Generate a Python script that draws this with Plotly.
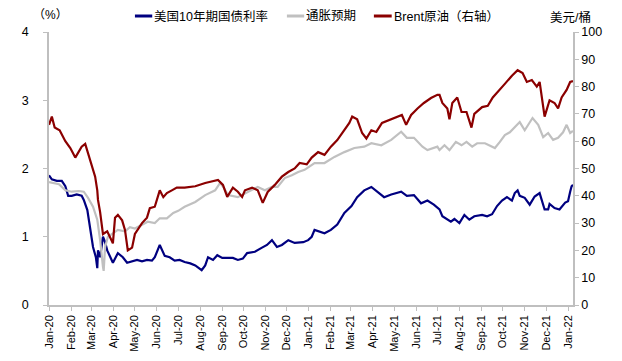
import plotly.graph_objects as go

# 美国10年期国债利率 (%)
yield_dates = ["2020-01-01","2020-01-05","2020-01-12","2020-01-19","2020-01-24","2020-01-28","2020-02-02","2020-02-09","2020-02-16","2020-02-19","2020-02-24","2020-02-28","2020-03-03","2020-03-07","2020-03-09","2020-03-10","2020-03-13","2020-03-17","2020-03-20","2020-03-23","2020-03-27","2020-03-31","2020-04-07","2020-04-14","2020-04-20","2020-04-27","2020-05-04","2020-05-11","2020-05-18","2020-05-25","2020-05-29","2020-06-05","2020-06-12","2020-06-19","2020-06-26","2020-07-03","2020-07-10","2020-07-18","2020-07-25","2020-08-03","2020-08-08","2020-08-12","2020-08-19","2020-08-25","2020-09-01","2020-09-09","2020-09-16","2020-09-23","2020-09-30","2020-10-06","2020-10-17","2020-10-27","2020-11-03","2020-11-10","2020-11-17","2020-11-24","2020-12-03","2020-12-12","2020-12-24","2020-12-31","2021-01-05","2021-01-09","2021-01-16","2021-01-23","2021-02-01","2021-02-10","2021-02-20","2021-03-02","2021-03-10","2021-03-20","2021-03-30","2021-04-07","2021-04-17","2021-04-27","2021-05-11","2021-05-19","2021-05-29","2021-06-08","2021-06-17","2021-06-26","2021-07-04","2021-07-08","2021-07-15","2021-07-20","2021-07-25","2021-08-01","2021-08-08","2021-08-15","2021-08-22","2021-09-02","2021-09-09","2021-09-16","2021-09-23","2021-09-30","2021-10-07","2021-10-14","2021-10-18","2021-10-22","2021-10-25","2021-11-01","2021-11-08","2021-11-15","2021-11-22","2021-11-29","2021-12-04","2021-12-06","2021-12-13","2021-12-20","2021-12-28","2022-01-01","2022-01-04","2022-01-06","2022-01-08"]
yield_vals = [1.90,1.84,1.82,1.82,1.74,1.60,1.60,1.62,1.60,1.54,1.39,1.14,0.85,0.70,0.54,0.80,0.70,1.00,0.92,0.80,0.70,0.62,0.76,0.70,0.62,0.64,0.66,0.64,0.66,0.65,0.70,0.88,0.72,0.70,0.65,0.66,0.63,0.61,0.58,0.51,0.58,0.70,0.66,0.73,0.69,0.69,0.69,0.66,0.68,0.76,0.78,0.84,0.88,0.95,0.85,0.88,0.95,0.91,0.92,0.95,1.00,1.10,1.08,1.05,1.10,1.18,1.35,1.45,1.58,1.68,1.73,1.66,1.58,1.62,1.66,1.60,1.61,1.49,1.53,1.47,1.40,1.30,1.26,1.22,1.26,1.20,1.32,1.25,1.30,1.32,1.30,1.33,1.45,1.53,1.58,1.53,1.64,1.68,1.60,1.57,1.47,1.59,1.64,1.40,1.40,1.48,1.42,1.40,1.50,1.52,1.66,1.74,1.76]

# 通胀预期 (%)
infl_dates = ["2020-01-01","2020-01-08","2020-01-15","2020-01-24","2020-02-02","2020-02-12","2020-02-19","2020-02-25","2020-03-03","2020-03-09","2020-03-13","2020-03-17","2020-03-18","2020-03-20","2020-03-24","2020-03-31","2020-04-07","2020-04-17","2020-04-24","2020-05-01","2020-05-11","2020-05-19","2020-05-29","2020-06-05","2020-06-15","2020-06-24","2020-07-01","2020-07-10","2020-07-25","2020-08-08","2020-08-22","2020-08-29","2020-09-03","2020-09-09","2020-09-23","2020-10-07","2020-10-21","2020-10-31","2020-11-10","2020-11-18","2020-11-28","2020-12-08","2020-12-17","2020-12-26","2021-01-09","2021-01-23","2021-02-06","2021-02-20","2021-03-06","2021-03-20","2021-03-30","2021-04-13","2021-04-27","2021-05-11","2021-05-19","2021-05-29","2021-06-10","2021-06-17","2021-07-01","2021-07-04","2021-07-11","2021-07-18","2021-07-27","2021-08-04","2021-08-11","2021-08-19","2021-08-26","2021-09-06","2021-09-13","2021-09-20","2021-09-27","2021-10-04","2021-10-11","2021-10-18","2021-10-25","2021-11-01","2021-11-08","2021-11-12","2021-11-20","2021-11-27","2021-12-04","2021-12-11","2021-12-18","2021-12-25","2021-12-30","2022-01-04","2022-01-08"]
infl_vals = [1.80,1.78,1.77,1.68,1.66,1.67,1.66,1.57,1.44,1.25,0.95,0.56,0.50,0.85,1.00,1.05,1.10,1.08,1.14,1.12,1.17,1.22,1.20,1.27,1.27,1.35,1.38,1.44,1.51,1.61,1.68,1.79,1.72,1.61,1.58,1.66,1.73,1.68,1.73,1.73,1.86,1.90,1.95,1.98,2.08,2.08,2.17,2.24,2.30,2.32,2.37,2.34,2.42,2.54,2.45,2.45,2.32,2.27,2.32,2.27,2.34,2.27,2.39,2.34,2.39,2.32,2.37,2.37,2.34,2.30,2.39,2.49,2.53,2.61,2.68,2.56,2.67,2.74,2.64,2.46,2.52,2.42,2.45,2.53,2.64,2.52,2.55]

# Brent原油 (美元/桶, 右轴)
brent_dates = ["2020-01-01","2020-01-05","2020-01-09","2020-01-16","2020-01-24","2020-01-31","2020-02-07","2020-02-11","2020-02-16","2020-02-21","2020-02-25","2020-03-02","2020-03-06","2020-03-09","2020-03-10","2020-03-13","2020-03-17","2020-03-23","2020-03-27","2020-03-31","2020-04-03","2020-04-07","2020-04-13","2020-04-17","2020-04-21","2020-04-27","2020-05-01","2020-05-05","2020-05-11","2020-05-18","2020-05-22","2020-05-29","2020-06-05","2020-06-10","2020-06-15","2020-06-22","2020-06-29","2020-07-10","2020-07-25","2020-08-08","2020-08-26","2020-09-02","2020-09-08","2020-09-16","2020-09-23","2020-09-29","2020-10-03","2020-10-13","2020-10-21","2020-10-28","2020-11-04","2020-11-14","2020-11-24","2020-12-03","2020-12-12","2020-12-19","2020-12-29","2021-01-05","2021-01-14","2021-01-23","2021-02-01","2021-02-10","2021-02-20","2021-02-27","2021-03-03","2021-03-10","2021-03-17","2021-03-23","2021-03-30","2021-04-06","2021-04-14","2021-04-27","2021-05-05","2021-05-12","2021-05-18","2021-05-25","2021-06-03","2021-06-12","2021-06-22","2021-07-01","2021-07-04","2021-07-08","2021-07-15","2021-07-18","2021-07-22","2021-07-29","2021-08-04","2021-08-11","2021-08-18","2021-08-22","2021-09-02","2021-09-10","2021-09-17","2021-09-27","2021-10-04","2021-10-14","2021-10-22","2021-10-29","2021-11-04","2021-11-11","2021-11-18","2021-11-22","2021-11-27","2021-11-29","2021-12-06","2021-12-13","2021-12-18","2021-12-23","2021-12-30","2022-01-04","2022-01-08"]
brent_vals = [66,69,65,64,60,57.5,54,56,58,59,55.6,51,47,42,38.5,34,26,27,25,22.6,32,33,31,27.5,20,21,26,27.5,30,32,35.5,36,42,39.5,41,42,43,43,43.5,44.7,45.8,44,39.6,43,41.5,39.6,42,43,42,37.4,41.4,44,47,48.7,50,52,51.5,54,56,55,58,60.4,64,66.7,69,68,63,61,64,63.4,66.7,68,69,69.6,66,69.6,72,74,75.8,77,77,74,72,68,74,76,70.7,70.7,65,70,72.5,73,76,78.8,81,84,86,85,81.7,82.4,80,81.7,72.5,69,75,74,72,76,78.8,81.7,82]

month_ticks = ["2020-01-01","2020-02-01","2020-03-01","2020-04-01","2020-05-01","2020-06-01","2020-07-01","2020-08-01","2020-09-01","2020-10-01","2020-11-01","2020-12-01","2021-01-01","2021-02-01","2021-03-01","2021-04-01","2021-05-01","2021-06-01","2021-07-01","2021-08-01","2021-09-01","2021-10-01","2021-11-01","2021-12-01","2022-01-01"]
month_labels = ["Jan-20","Feb-20","Mar-20","Apr-20","May-20","Jun-20","Jul-20","Aug-20","Sep-20","Oct-20","Nov-20","Dec-20","Jan-21","Feb-21","Mar-21","Apr-21","May-21","Jun-21","Jul-21","Aug-21","Sep-21","Oct-21","Nov-21","Dec-21","Jan-22"]

series_names = ["美国10年期国债利率", "通胀预期", "Brent原油（右轴）"]
series_colors = ["#000080", "#c0c0c0", "#8b0000"]

FONT = "Liberation Sans, Arial, Noto Sans CJK SC, sans-serif"
AXIS = "#bfbfbf"

fig = go.Figure()
fig.add_trace(go.Scatter(x=yield_dates, y=yield_vals, mode="lines", name=series_names[0],
                         line=dict(color=series_colors[0], width=2.2), showlegend=False))
fig.add_trace(go.Scatter(x=infl_dates, y=infl_vals, mode="lines", name=series_names[1],
                         line=dict(color=series_colors[1], width=2.2), showlegend=False))
fig.add_trace(go.Scatter(x=brent_dates, y=brent_vals, mode="lines", name=series_names[2],
                         line=dict(color=series_colors[2], width=2.2), yaxis="y2", showlegend=False))

# custom legend (short line keys like the original)
legend_y = 1.0586
legend_line_x = [(0.164, 0.197), (0.454, 0.487), (0.620, 0.654)]
shapes = []
annotations = []
for (x0, x1), name, col in zip(legend_line_x, series_names, series_colors):
    shapes.append(dict(type="line", xref="paper", yref="paper", x0=x0, x1=x1,
                       y0=legend_y, y1=legend_y, line=dict(color=col, width=3)))
    annotations.append(dict(text=name, x=x1, y=legend_y, xref="paper", yref="paper",
                            xanchor="left", yanchor="middle", showarrow=False,
                            font=dict(size=12.5, family=FONT, color="black")))

annotations.append(dict(text="（%）", x=0.002, y=1.062, xref="paper", yref="paper",
                        xanchor="center", yanchor="middle", showarrow=False,
                        font=dict(size=12, family=FONT)))
annotations.append(dict(text="美元/桶", x=0.996, y=1.053, xref="paper", yref="paper",
                        xanchor="center", yanchor="middle", showarrow=False,
                        font=dict(size=12.5, family=FONT)))

# page body has an 8px margin, so the figure is 8px smaller and margins shifted
fig.update_layout(
    width=614, height=353,
    margin=dict(l=41, r=49, t=24, b=56, autoexpand=False),
    paper_bgcolor="white", plot_bgcolor="white",
    font=dict(family=FONT, size=12, color="black"),
    showlegend=False,
    xaxis=dict(type="date", range=["2020-01-01", "2022-01-08"],
               tickvals=month_ticks, ticktext=month_labels, tickangle=-90,
               tickfont=dict(size=11), showgrid=False, zeroline=False,
               showline=True, linecolor=AXIS, linewidth=1.5,
               ticks="outside", ticklen=4, tickcolor=AXIS, tickwidth=1),
    yaxis=dict(range=[0, 4], dtick=1, showgrid=False, zeroline=False,
               showline=True, linecolor=AXIS, linewidth=1.5,
               ticks="outside", ticklen=4, tickcolor=AXIS, tickwidth=1,
               ticklabelstandoff=12, tickfont=dict(size=12.5)),
    yaxis2=dict(range=[0, 100], dtick=10, overlaying="y", side="right",
                showgrid=False, zeroline=False,
                showline=True, linecolor=AXIS, linewidth=1.5,
                ticks="outside", ticklen=4, tickcolor=AXIS, tickwidth=1,
                ticklabelstandoff=0, tickfont=dict(size=12.5)),
    shapes=shapes,
    annotations=annotations,
)

fig.write_html("out.html")
